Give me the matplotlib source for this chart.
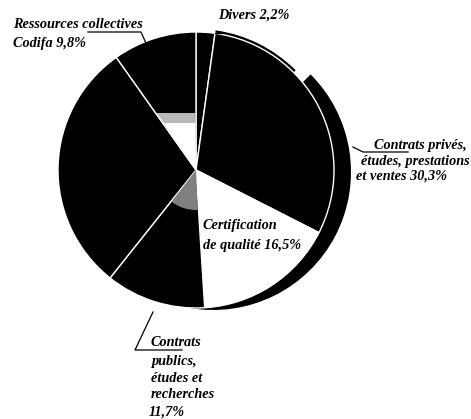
import matplotlib
matplotlib.use("Agg")
import matplotlib.pyplot as plt
from matplotlib.patches import Wedge, Rectangle

# ---- data ----
categories = ["Divers", "Contrats privés, études, prestations et ventes",
              "Certification de qualité", "Contrats publics, études et recherches",
              "Autres", "Ressources collectives Codifa"]
values = [2.2, 30.3, 16.5, 11.7, 29.5, 9.8]
colors = ["black", "black", "white", "black", "black", "black"]

# label lines: (text, x_px, y_px_from_top, ha)
label_lines = [
    ("Ressources collectives", 13, 25, "left"),
    ("Codifa 9,8%", 13, 43, "left"),
    ("Divers 2,2%", 218, 15, "left"),
    ("Contrats privés,", 467, 146, "right"),
    ("études, prestations", 470, 161, "right"),
    ("et ventes 30,3%", 447, 176, "right"),
    ("Certification", 203, 226, "left"),
    ("de qualité 16,5%", 203, 245, "left"),
    ("Contrats", 151, 343, "left"),
    ("publics,", 151, 361, "left"),
    ("études et", 151, 378, "left"),
    ("recherches", 151, 395, "left"),
    ("11,7%", 149, 412, "left"),
]

W, H = 471, 419
fig = plt.figure(figsize=(W / 100, H / 100), dpi=100)
ax = fig.add_axes([0, 0, 1, 1])

cx, cy, R = 196, H - 170, 138
start = 90

def Y(y):
    return H - y

# 3D shadow behind the right-hand slices
ax.add_patch(Wedge((cx + 17, cy - 2), R, -100, 45, facecolor="black", edgecolor="none", zorder=1))
ax.add_patch(Wedge((cx, cy), R + 3, 45, 82, facecolor="black", edgecolor="none", zorder=1))

wedges, _ = ax.pie(values, colors=colors, startangle=start, counterclock=False,
                   center=(cx, cy), radius=R, frame=True,
                   wedgeprops=dict(edgecolor="white", linewidth=1.0))
for w in wedges:
    w.set_zorder(2)
ax.set_xlim(0, W)
ax.set_ylim(0, H)
ax.axis("off")
ax.set_aspect("equal")

# angles of wedges
angles = []
a = start
for v in values:
    a2 = a - v / sum(values) * 360
    angles.append((a2, a))
    a = a2

# white inner part of Codifa slice with dither band
t1, t2 = angles[5]
inner = Wedge((cx, cy), R, t1 + 0.5, t2 - 0.5, facecolor="white", edgecolor="none", zorder=3)
ax.add_patch(inner)
inner.set_clip_path(Rectangle((0, 0), W, Y(113), transform=ax.transData))
band = Wedge((cx, cy), R, t1 + 0.5, t2 - 1, facecolor="#b8b8b8", edgecolor="none", zorder=3)
ax.add_patch(band)
band.set_clip_path(Rectangle((0, Y(123)), W, 10, transform=ax.transData))

# gray inner part of Publics slice
p1, p2 = angles[3]
ax.add_patch(Wedge((cx, cy), 40, p1 + 1, p2 - 1, facecolor="#808080", edgecolor="none", zorder=3))

# leader lines
lk = dict(color="black", lw=0.9, zorder=4)
ax.plot([88, 141, 149], [Y(32), Y(32), Y(50)], **lk)
ax.plot([215, 222], [Y(33), Y(33)], **lk)
ax.plot([353, 363, 408], [Y(147), Y(152), Y(152)], **lk)
ax.plot([153, 135, 182], [Y(312), Y(350), Y(350)], **lk)

font = dict(family="Liberation Serif", weight="bold", style="italic", size=10.3)
for txt, x, y, ha in label_lines:
    ax.text(x, Y(y), txt, ha=ha, va="center", zorder=5, **font)

fig.savefig("out.png", dpi=100)
